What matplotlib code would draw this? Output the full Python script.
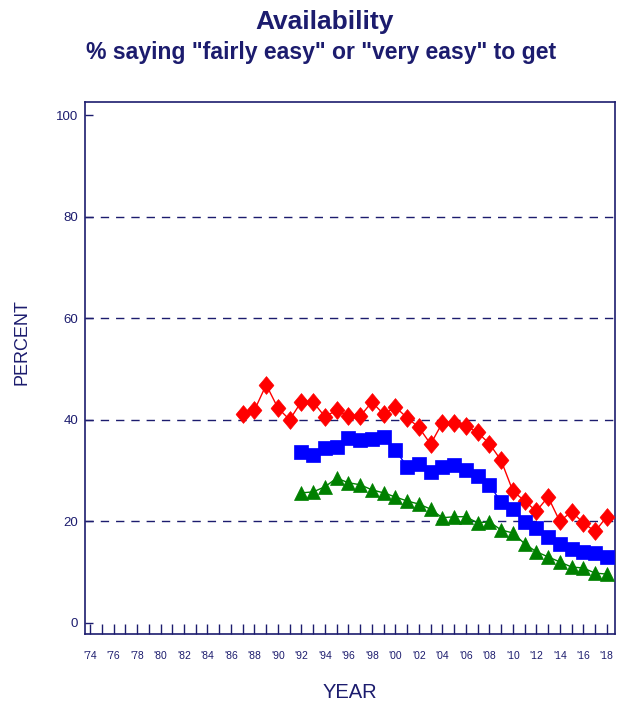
import matplotlib
matplotlib.use("Agg")
import matplotlib.pyplot as plt
import numpy as np

plt.rcParams['font.family'] = ['Liberation Sans', 'DejaVu Sans']

NAVY = '#1c1c6e'

red_years = list(range(1987, 2019))
red_values = [41.1, 41.9, 46.9, 42.3, 40.0, 43.6, 43.5, 40.6, 41.9, 40.7, 40.7, 43.5,
              41.1, 42.5, 40.4, 38.5, 35.2, 39.4, 39.4, 38.8, 37.5, 35.3, 32.0, 26.0,
              24.0, 22.0, 24.8, 20.0, 21.9, 19.7, 18.0, 20.9]

blue_years = list(range(1992, 2019))
blue_values = [33.7, 33.1, 34.4, 34.6, 36.4, 36.0, 36.2, 36.6, 34.1, 30.7, 31.3,
               29.7, 30.7, 31.1, 30.1, 28.9, 27.2, 23.8, 22.4, 19.9, 18.7, 16.9,
               15.6, 14.6, 14.0, 13.8, 13.0]

green_years = list(range(1992, 2019))
green_values = [25.6, 25.8, 26.8, 28.5, 27.6, 27.2, 26.2, 25.6, 24.8, 24.0, 23.4,
                22.4, 20.7, 20.9, 20.9, 19.7, 19.9, 18.3, 17.7, 15.6, 14.0, 13.0,
                12.0, 11.0, 10.8, 9.8, 9.6]

all_years = list(range(1974, 2019))
label_years = list(range(1974, 2019, 2))
y_ticks = [0, 20, 40, 60, 80, 100]
grid_levels = [20, 40, 60, 80]

diamond = [(0, 1.2), (1, 0), (0, -1.2), (-1, 0), (0, 1.2)]

fig = plt.figure(figsize=(6.3, 7.06), dpi=100)
ax = fig.add_axes([85/630, 1 - 634/706, (615-85)/630, (634-102)/706])

for g in grid_levels:
    ax.axhline(g, color=NAVY, lw=1.0, ls=(0, (6, 5)), zorder=1)

ax.plot(red_years, red_values, color='#ff0000', lw=1.0, marker=diamond, ms=12.8,
        mec='#ff0000', mfc='#ff0000', mew=0.5, zorder=3)
ax.plot(blue_years, blue_values, color='#0000ff', lw=1.0, marker='s', ms=9.6,
        mec='#0000ff', mfc='#0000ff', mew=0.5, zorder=3)
ax.plot(green_years, green_values, color='#008000', lw=1.0, marker='^', ms=9.8,
        mec='#008000', mfc='#008000', mew=0.5, zorder=3)

ax.set_xlim(1973.57, 2018.7)
ax.set_ylim(-2.2, 102.6)

ax.set_xticks(all_years)
ax.set_xticklabels(["'%02d" % (y % 100) if y in label_years else '' for y in all_years])
ax.tick_params(axis='x', direction='in', length=7, width=1, color=NAVY,
               labelcolor=NAVY, labelsize=7.5, pad=12)
ax.set_yticks(y_ticks)
ax.tick_params(axis='y', direction='in', length=6, width=1, color=NAVY,
               labelcolor=NAVY, labelsize=9.5, pad=5)

for s in ax.spines.values():
    s.set_color(NAVY)
    s.set_linewidth(1.2)

fig.text(22/630, 1 - 342/706, 'PERCENT', rotation=90, ha='center', va='center',
         color=NAVY, fontsize=13)
fig.text(350/630, 1 - 692/706, 'YEAR', ha='center', va='center',
         color=NAVY, fontsize=14.5)

fig.text(0.515, 1 - 22/706, 'Availability', ha='center', va='center',
         color=NAVY, fontsize=19, fontweight='bold')
fig.text(0.51, 1 - 53/706, '% saying "fairly easy" or "very easy" to get',
         ha='center', va='center', color=NAVY, fontsize=16.6, fontweight='bold')

fig.savefig('out.png', dpi=100)
